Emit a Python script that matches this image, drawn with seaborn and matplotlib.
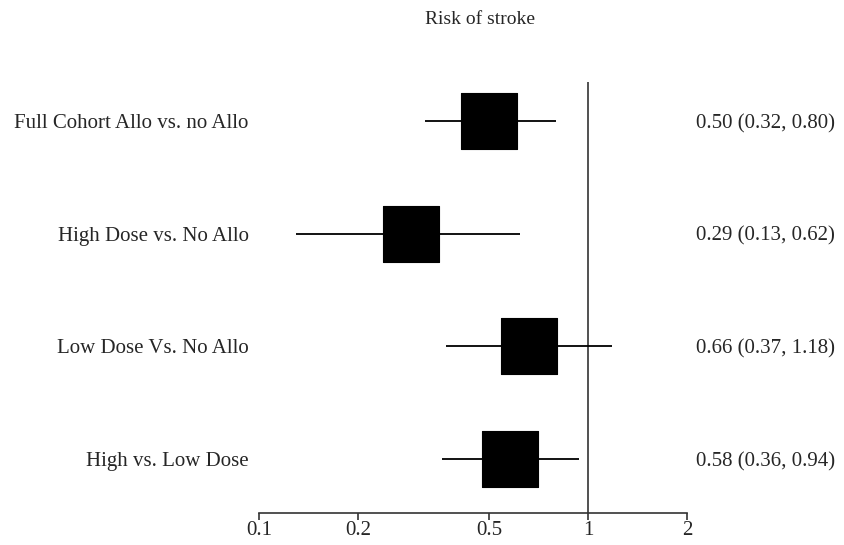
import matplotlib
matplotlib.use('Agg')
import matplotlib.pyplot as plt
import seaborn as sns
import pandas as pd

# datos del forest plot
comparaciones = ['Full Cohort Allo vs. no Allo', 'High Dose vs. No Allo',
                 'Low Dose Vs. No Allo', 'High vs. Low Dose']
hr = [0.50, 0.29, 0.66, 0.58]
ic_inf = [0.32, 0.13, 0.37, 0.36]
ic_sup = [0.80, 0.62, 1.18, 0.94]
ticks = [0.1, 0.2, 0.5, 1, 2]

df = pd.DataFrame({'comp': comparaciones, 'hr': hr, 'lo': ic_inf, 'hi': ic_sup})
df['pos'] = range(len(df))

sns.set_style('white')
plt.rcParams['font.family'] = ['Liberation Serif', 'DejaVu Serif']

fig = plt.figure(figsize=(8.45, 5.45), dpi=100)
ax = fig.add_axes([0.3065, 0.0587, 0.813 - 0.3065, 0.8495 - 0.0587])

ax.hlines(df['pos'], df['lo'], df['hi'], color='black', linewidth=1.3, zorder=1)
sns.scatterplot(data=df, x='hr', y='pos', marker='s', s=1650, color='black',
                edgecolor='black', linewidth=0.8, ax=ax, zorder=2, legend=False)
ax.axvline(1, color='#333333', linewidth=1.2, zorder=0)

ax.set_xscale('log')
ax.set_xlim(0.1, 2)
ax.set_ylim(3.479, -0.346)
ax.set_xticks(ticks)
ax.set_xticklabels([str(t) for t in ticks])
ax.minorticks_off()
ax.set_yticks([])
ax.set_xlabel('')
ax.set_ylabel('')

for lado in ['top', 'right', 'left']:
    ax.spines[lado].set_visible(False)
ax.spines['bottom'].set_color('#333333')
ax.spines['bottom'].set_linewidth(1.2)
ax.tick_params(axis='x', bottom=True, direction='out', length=5, width=1.2,
               color='#333333', labelsize=15, pad=1)

for _, fila in df.iterrows():
    ax.text(-0.024, fila['pos'], fila['comp'], transform=ax.get_yaxis_transform(),
            ha='right', va='center_baseline', fontsize=15)
    ax.text(1.02, fila['pos'], f"{fila['hr']:.2f} ({fila['lo']:.2f}, {fila['hi']:.2f})",
            transform=ax.get_yaxis_transform(), ha='left', va='center_baseline', fontsize=15)

fig.text(480 / 845, 1 - 20 / 545, 'Risk of stroke', ha='center', va='center', fontsize=14)

plt.savefig('out.png', dpi=100)
plt.close()
